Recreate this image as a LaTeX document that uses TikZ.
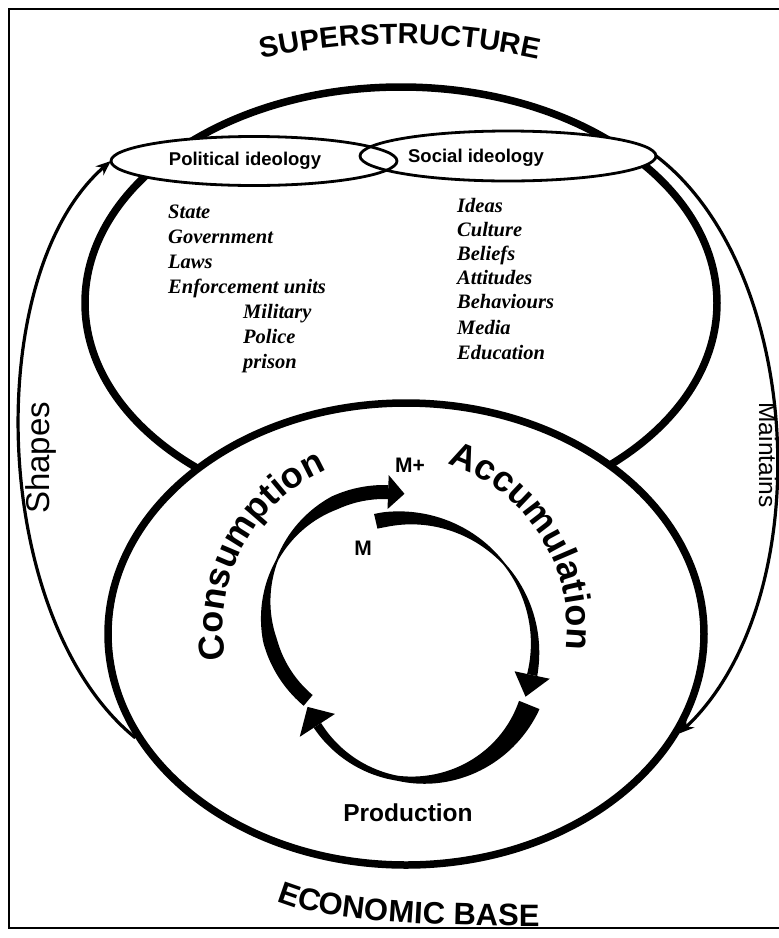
\documentclass[tikz,border=0pt]{standalone}
\usepackage{fontspec}
\setmainfont{Liberation Sans}
\newfontfamily\scriptfam{Liberation Serif}
\usetikzlibrary{decorations.text,arrows.meta,shapes.geometric}
% tapered circular arrow: #1 cx #2 cy #3 r #4 start #5 end #6 thinnest angle #7 min width #8 slope before #9 slope after
% \wcap = max width, \hhw = head half width, \hdl = head angular length
\newcommand\cycarrow[9]{%
  \fill[black] plot[domain=#4:#5, samples=80, variable=\t]
    ({#1+(#3+0.5*min(\wcap,#7+#8*max(#6-\t,0)+#9*max(\t-#6,0)))*cos(\t)},
     {#2+(#3+0.5*min(\wcap,#7+#8*max(#6-\t,0)+#9*max(\t-#6,0)))*sin(\t)})
    -- plot[domain=#5:#4, samples=80, variable=\t]
    ({#1+(#3-0.5*min(\wcap,#7+#8*max(#6-\t,0)+#9*max(\t-#6,0)))*cos(\t)},
     {#2+(#3-0.5*min(\wcap,#7+#8*max(#6-\t,0)+#9*max(\t-#6,0)))*sin(\t)})
    -- cycle;
  \fill[black] ({#1+(#3+\hhw)*cos(#5)},{#2+(#3+\hhw)*sin(#5)})
    -- ({#1+#3*cos(#5+\hdl)},{#2+#3*sin(#5+\hdl)})
    -- ({#1+(#3-\hhw)*cos(#5)},{#2+(#3-\hhw)*sin(#5)}) -- cycle;}
\begin{document}
\begin{tikzpicture}[x=1pt,y=-1pt,
  bigell/.style={ellipse, draw, line width=7.5pt, inner sep=0pt},
  idell/.style={ellipse, fill=white, inner sep=0pt},
  idline/.style={line width=2.8pt},
  lbl/.style={font=\bfseries\fontsize{18.5}{20}\selectfont, inner sep=0pt},
  scr/.style={font=\scriptfam\bfseries\itshape\fontsize{20.5}{22}\selectfont, anchor=base west, inner sep=0pt},
  conn/.style={line width=3.2pt, -{Stealth[length=15pt,width=12pt]}},
  cyc/.style={font=\bfseries\fontsize{21}{21}\selectfont, inner sep=0pt},
  side/.style={inner sep=0pt},
]
\useasboundingbox (0,0) rectangle (779,938);
\fill[white] (0,0) rectangle (779,938);
\draw[line width=1.8pt] (9,9) rectangle (783,928);

% the two big ellipses
\node[bigell, minimum width=632, minimum height=432] (sup) at (401,303) {};
\node[bigell, fill=white, minimum width=596, minimum height=462] (base) at (406,634) {};

% ideology ellipses
\node[idell, minimum width=286, minimum height=49] (pol) at (254,161) {};
\node[idell, minimum width=296, minimum height=50] (soc) at (508,156) {};
\draw[idline] (pol.center) ellipse [x radius=143, y radius=24.5];
\draw[idline] (soc.center) ellipse [x radius=148, y radius=25];
\node[lbl] (poltxt) at (245,161) {Political ideology};
\node[lbl] (soctxt) at (476,158) {Social ideology};

% arc titles
\path[decorate, decoration={text along path, text align=center, text format delimiters={|}{|},
  text={|\bfseries\fontsize{29}{29}\selectfont|SUPERSTRUCTURE}}]
  (400,694) ++(250:650) arc[start angle=250, end angle=290, radius=650];
\path[decorate, decoration={text along path, text align=center, text format delimiters={|}{|},
  text={|\bfseries\fontsize{31}{31}\selectfont|ECONOMIC BASE}}]
  (262,893) .. controls (292,913) and (360,927) .. (556,926);

% political list
\node[scr] (state) at (168,218) {State};
\node[scr] (gov) at (168,243) {Government};
\node[scr] (laws) at (168,268) {Laws};
\node[scr] (enf) at (168,293) {Enforcement units};
\node[scr] (mil) at (243,318) {Military};
\node[scr] (pol2) at (243,343) {Police};
\node[scr] (pris) at (243,368) {prison};
% social list
\node[scr] (ideas) at (457,212) {Ideas};
\node[scr] (cult) at (457,236) {Culture};
\node[scr] (bel) at (457,260) {Beliefs};
\node[scr] (att) at (457,284) {Attitudes};
\node[scr] (beh) at (457,308) {Behaviours};
\node[scr] (med) at (457,334) {Media};
\node[scr] (edu) at (457,359) {Education};

% cycle labels
\path[decorate, decoration={text along path, text align=center, text format delimiters={|}{|},
  text={|\bfseries\fontsize{36}{36}\selectfont|Consumption}}]
  (395,628) ++(153:172) arc[start angle=153, end angle=263, radius=172];
\path[decorate, decoration={text along path, text align=center, text format delimiters={|}{|},
  text={|\bfseries\fontsize{36}{36}\selectfont|Accumulation}}]
  (395,628) ++(272:172) arc[start angle=272, end angle=383, radius=172];
\node[cyc] (mplus) at (410,465) {M+};
\node[cyc] (m) at (363,548) {M};
\node[font=\bfseries\fontsize{24.5}{25}\selectfont, inner sep=0pt] (prod) at (408,813) {Production};

% cycle arrows
\def\wcap{14}\def\hhw{17}\def\hdl{8}
\cycarrow{384}{610}{118}{130}{272}{205}{2}{0.3}{0.3}
\def\wcap{15}\def\hhw{18}\def\hdl{10}
\cycarrow{405}{648}{130}{257}{372}{320}{2}{0.22}{0.16}
\def\wcap{22}\def\hhw{21}\def\hdl{10}
\cycarrow{418}{660}{120}{22}{147}{100}{5}{0.22}{0.08}

% connectors
\draw[conn] (base.201) .. controls (-10,620) and (-20,275) .. (pol.west);
\draw[conn] (soc.east) .. controls (805,270) and (820,600) .. (base.340);
\node[side, rotate=90, font=\fontsize{33}{33}\selectfont] (shp) at (41,458) {Shapes};
\node[side, rotate=-90, font=\fontsize{24.5}{25}\selectfont] (mnt) at (768,455) {Maintains};
\end{tikzpicture}
\end{document}
